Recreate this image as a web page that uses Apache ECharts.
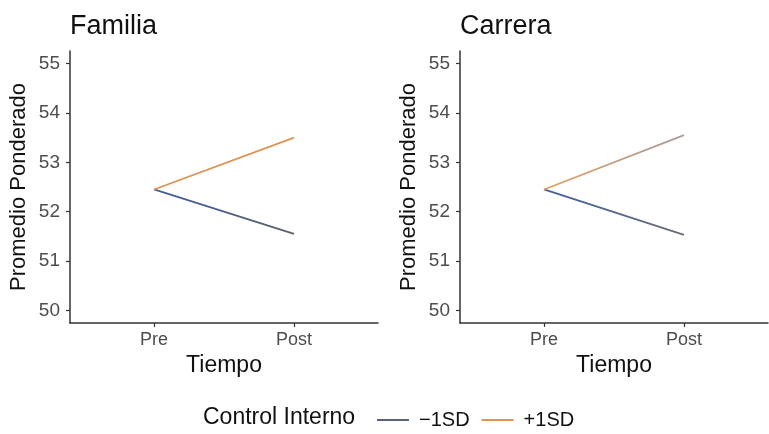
<!DOCTYPE html>
<html>
<head>
<meta charset="utf-8">
<script src="https://cdn.jsdelivr.net/npm/echarts@6/dist/echarts.min.js"></script>
<style>
html,body{margin:0;padding:0;background:#fff;}
#chart{width:769px;height:434px;}
</style>
</head>
<body>
<div id="chart"></div>
<script>
var categories = ['Pre', 'Post'];
var panelTitles = ['Familia', 'Carrera'];
var seriesNames = ['\u22121SD', '+1SD'];
var familiaLow = [52.45, 51.55];
var familiaHigh = [52.45, 53.50];
var carreraLow = [52.45, 51.53];
var carreraHigh = [52.45, 53.55];
var yTicks = [50, 51, 52, 53, 54, 55];
var xPositions = [1, 2];

var FONT = 'Liberation Sans, Arial, Helvetica, sans-serif';

function pairs(vals) {
  return vals.map(function (v, i) { return [xPositions[i], v]; });
}

function grad(c1, c2) {
  return new echarts.graphic.LinearGradient(0, 0, 1, 0, [
    { offset: 0, color: c1 }, { offset: 1, color: c2 }
  ]);
}

var gridLefts = [70, 460];

function xAxis(i) {
  return {
    type: 'value', gridIndex: i, min: 0.4, max: 2.6,
    name: 'Tiempo', nameLocation: 'middle', nameGap: 29,
    nameTextStyle: { fontFamily: FONT, fontSize: 23, color: '#111' },
    axisLine: { show: true, lineStyle: { color: '#333', width: 1.5 } },
    axisTick: { show: true, length: 4, customValues: xPositions, lineStyle: { color: '#333', width: 1.2 } },
    axisLabel: {
      customValues: xPositions, margin: 8,
      fontFamily: FONT, fontSize: 18, color: '#4d4d4d',
      formatter: function (v) { return categories[Math.round(v) - 1]; }
    },
    splitLine: { show: false }
  };
}

function yAxis(i) {
  return {
    type: 'value', gridIndex: i, min: 49.75, max: 55.25,
    name: 'Promedio Ponderado', nameLocation: 'middle', nameGap: 40,
    nameTextStyle: { fontFamily: FONT, fontSize: 22, color: '#111' },
    axisLine: { show: true, lineStyle: { color: '#333', width: 1.5 } },
    axisTick: { show: true, length: 4, customValues: yTicks, lineStyle: { color: '#333', width: 1.2 } },
    axisLabel: { customValues: yTicks, margin: 10, fontFamily: FONT, fontSize: 19, color: '#4d4d4d' },
    splitLine: { show: false }
  };
}

var option = {
  animation: false,
  backgroundColor: '#fff',
  title: panelTitles.map(function (t, i) {
    return { text: t, left: gridLefts[i], top: 13, padding: 0,
      textStyle: { fontFamily: FONT, fontSize: 27, fontWeight: 'normal', color: '#111' } };
  }),
  grid: gridLefts.map(function (l) { return { left: l, top: 51, width: 308, height: 272 }; }),
  xAxis: [xAxis(0), xAxis(1)],
  yAxis: [yAxis(0), yAxis(1)],
  legend: {
    left: 372, top: 405,
    data: seriesNames,
    icon: 'rect', itemWidth: 32, itemHeight: 2, itemGap: 12,
    textStyle: { fontFamily: FONT, fontSize: 20, color: '#111', padding: [0, 0, 0, 5] }
  },
  graphic: [{
    type: 'text', left: 203, top: 406,
    style: { text: 'Control Interno', fontFamily: FONT, fontSize: 23, fill: '#111' }
  }],
  series: [
    { name: seriesNames[0], type: 'line', xAxisIndex: 0, yAxisIndex: 0, data: pairs(familiaLow),
      showSymbol: false, symbol: 'none', color: '#5a6273',
      lineStyle: { width: 1.8, color: grad('#3f5fa0', '#5c6068') } },
    { name: seriesNames[1], type: 'line', xAxisIndex: 0, yAxisIndex: 0, data: pairs(familiaHigh),
      showSymbol: false, symbol: 'none', color: '#e29550',
      lineStyle: { width: 1.8, color: '#df9350' } },
    { name: seriesNames[0], type: 'line', xAxisIndex: 1, yAxisIndex: 1, data: pairs(carreraLow),
      showSymbol: false, symbol: 'none', color: '#5a6273',
      lineStyle: { width: 1.8, color: grad('#3f5fa0', '#6a6e72') } },
    { name: seriesNames[1], type: 'line', xAxisIndex: 1, yAxisIndex: 1, data: pairs(carreraHigh),
      showSymbol: false, symbol: 'none', color: '#e29550',
      lineStyle: { width: 1.8, color: grad('#e0a060', '#a89a9c') } }
  ]
};

var chart = echarts.init(document.getElementById('chart'), null, { renderer: 'canvas' });
chart.setOption(option);
</script>
</body>
</html>
